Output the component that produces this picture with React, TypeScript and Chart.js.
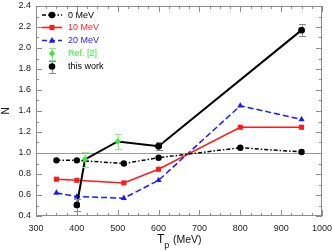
import React, { useEffect, useRef } from "react";
import { Chart, registerables } from "chart.js";

Chart.register(...registerables);

// ---- data ----
const energies = [350, 400, 515, 600, 800, 950];
const n0MeV = [0.93, 0.93, 0.9, 0.955, 1.05, 1.01];
const n10MeV = [0.75, 0.74, 0.715, 0.845, 1.245, 1.245];
const n20MeV = [0.62, 0.585, 0.57, 0.74, 1.45, 1.32];

const refEnergies = [420, 500];
const refValues = [0.94, 1.11];
const refErrors = [0.07, 0.07];

const workEnergies = [400, 600, 950];
const workValues = [0.505, 1.065, 2.17];
const workErrors = [0.055, 0.04, 0.06];

const xTicks = [300, 400, 500, 600, 700, 800, 900, 1000];
const yTicks = [0.4, 0.6, 0.8, 1.0, 1.2, 1.4, 1.6, 1.8, 2.0, 2.2, 2.4];
const legendLabels = ["0 MeV", "10 MeV", "20 MeV", "Ref. [2]", "this work"];
const xTitle = ["T", "p", "(MeV)"];
const yTitle = "N";

const FONT = "'Liberation Sans', Arial, Helvetica, sans-serif";
const RED = "#ff1a1a";
const BLUE = "#1a1aff";
const GREEN = "#33ee33";
const GREEN_BAR = "#88ee88";
const GRAY_BAR = "#8a8a8a";
const FRAME = "#8c8c8c";

const pts = (xs: number[], ys: number[]) => xs.map((x, i) => ({ x, y: ys[i] }));

const combined = [...workEnergies.map((x, i) => ({ x, y: workValues[i] })), ...refEnergies.map((x, i) => ({ x, y: refValues[i] }))].sort((a, b) => a.x - b.x);

function drawMarker(ctx: CanvasRenderingContext2D, kind: string, x: number, y: number, r: number, color: string) {
  ctx.save();
  ctx.fillStyle = color;
  ctx.strokeStyle = color;
  ctx.setLineDash([]);
  ctx.beginPath();
  if (kind === "circle") {
    ctx.arc(x, y, r, 0, Math.PI * 2);
  } else if (kind === "rect") {
    const s = r * Math.SQRT1_2;
    ctx.rect(x - s, y - s, 2 * s, 2 * s);
  } else if (kind === "triangle") {
    ctx.moveTo(x, y - r);
    ctx.lineTo(x + r * 0.9, y + r * 0.6);
    ctx.lineTo(x - r * 0.9, y + r * 0.6);
    ctx.closePath();
  } else if (kind === "diamond") {
    ctx.moveTo(x, y - r);
    ctx.lineTo(x + r, y);
    ctx.lineTo(x, y + r);
    ctx.lineTo(x - r, y);
    ctx.closePath();
  }
  ctx.fill();
  ctx.restore();
}

function drawErrBar(ctx: CanvasRenderingContext2D, x: number, yTop: number, yBot: number, color: string, cap: number) {
  ctx.save();
  ctx.strokeStyle = color;
  ctx.lineWidth = 1;
  ctx.setLineDash([]);
  const xx = Math.round(x) + 0.5;
  const t = Math.round(yTop) + 0.5;
  const b = Math.round(yBot) + 0.5;
  ctx.beginPath();
  ctx.moveTo(xx, t);
  ctx.lineTo(xx, b);
  ctx.moveTo(xx - cap, t);
  ctx.lineTo(xx + cap, t);
  ctx.moveTo(xx - cap, b);
  ctx.lineTo(xx + cap, b);
  ctx.stroke();
  ctx.restore();
}

const decorPlugin = {
  id: "decor",
  beforeDatasetsDraw(chart: any) {
    const { ctx, chartArea: a, scales } = chart;
    const xs = scales.x;
    const ys = scales.y;
    ctx.save();
    // reference line at N = 1
    ctx.strokeStyle = "#9a9a9a";
    ctx.lineWidth = 1;
    const y1 = Math.round(ys.getPixelForValue(1.0)) + 0.5;
    ctx.beginPath();
    ctx.moveTo(a.left, y1);
    ctx.lineTo(a.right, y1);
    ctx.stroke();

    // inward ticks
    ctx.strokeStyle = FRAME;
    ctx.beginPath();
    for (let i = 0; i < xTicks.length; i++) {
      const px = Math.round(xs.getPixelForValue(xTicks[i])) + 0.5;
      ctx.moveTo(px, a.bottom);
      ctx.lineTo(px, a.bottom - 6);
      ctx.moveTo(px, a.top);
      ctx.lineTo(px, a.top + 6);
      if (i < xTicks.length - 1) {
        const step = (xTicks[i + 1] - xTicks[i]) / 4;
        for (let k = 1; k < 4; k++) {
          const mx = Math.round(xs.getPixelForValue(xTicks[i] + k * step)) + 0.5;
          ctx.moveTo(mx, a.bottom);
          ctx.lineTo(mx, a.bottom - 3);
          ctx.moveTo(mx, a.top);
          ctx.lineTo(mx, a.top + 3);
        }
      }
    }
    for (let i = 0; i < yTicks.length; i++) {
      const py = Math.round(ys.getPixelForValue(yTicks[i])) + 0.5;
      ctx.moveTo(a.left, py);
      ctx.lineTo(a.left + 6, py);
      ctx.moveTo(a.right, py);
      ctx.lineTo(a.right - 6, py);
      if (i < yTicks.length - 1) {
        const my = Math.round(ys.getPixelForValue((yTicks[i] + yTicks[i + 1]) / 2)) + 0.5;
        ctx.moveTo(a.left, my);
        ctx.lineTo(a.left + 3, my);
        ctx.moveTo(a.right, my);
        ctx.lineTo(a.right - 3, my);
      }
    }
    ctx.stroke();
    // frame
    ctx.strokeRect(a.left + 0.5, a.top + 0.5, a.right - a.left - 1, a.bottom - a.top - 1);
    ctx.restore();
  },
  afterDatasetsDraw(chart: any) {
    const { ctx, scales } = chart;
    const xs = scales.x;
    const ys = scales.y;
    refEnergies.forEach((e, i) => {
      drawErrBar(ctx, xs.getPixelForValue(e), ys.getPixelForValue(refValues[i] + refErrors[i]), ys.getPixelForValue(refValues[i] - refErrors[i]), GREEN_BAR, 3.5);
    });
    workEnergies.forEach((e, i) => {
      drawErrBar(ctx, xs.getPixelForValue(e), ys.getPixelForValue(workValues[i] + workErrors[i]), ys.getPixelForValue(workValues[i] - workErrors[i]), GRAY_BAR, 3.5);
    });
    // redraw markers above bars
    refEnergies.forEach((e, i) => drawMarker(ctx, "diamond", xs.getPixelForValue(e), ys.getPixelForValue(refValues[i]), 3, GREEN));
    workEnergies.forEach((e, i) => drawMarker(ctx, "circle", xs.getPixelForValue(e), ys.getPixelForValue(workValues[i]), 3.2, "#000"));
  },
  afterDraw(chart: any) {
    const { ctx, chartArea: a } = chart;
    ctx.save();
    // legend
    const rows = [15, 27.5, 40.5, 53.5, 66.5];
    const lx0 = 42, lx1 = 62, mx = 52, tx = 68;
    const colors = ["#000", RED, BLUE, GREEN, "#000"];
    ctx.lineWidth = 1.5;
    ctx.strokeStyle = "#000";
    ctx.setLineDash([4, 2, 1.5, 2]);
    ctx.beginPath(); ctx.moveTo(lx0, rows[0]); ctx.lineTo(lx1, rows[0]); ctx.stroke();
    drawMarker(ctx, "circle", mx, rows[0], 3.3, "#000");
    ctx.strokeStyle = RED;
    ctx.setLineDash([]);
    ctx.beginPath(); ctx.moveTo(lx0, rows[1]); ctx.lineTo(lx1, rows[1]); ctx.stroke();
    drawMarker(ctx, "rect", mx, rows[1], 3.6, RED);
    ctx.strokeStyle = BLUE;
    ctx.setLineDash([5, 3]);
    ctx.beginPath(); ctx.moveTo(lx0, rows[2]); ctx.lineTo(lx1, rows[2]); ctx.stroke();
    ctx.setLineDash([]);
    drawMarker(ctx, "triangle", mx, rows[2], 3.6, BLUE);
    drawErrBar(ctx, mx, rows[3] - 6, rows[3] + 6, GREEN_BAR, 3.5);
    drawMarker(ctx, "diamond", mx, rows[3], 3.2, GREEN);
    drawErrBar(ctx, mx, rows[4] - 6, rows[4] + 6, GRAY_BAR, 3.5);
    drawMarker(ctx, "circle", mx, rows[4], 3.3, "#000");
    ctx.font = `9px ${FONT}`;
    ctx.textBaseline = "middle";
    ctx.textAlign = "left";
    legendLabels.forEach((t, i) => {
      ctx.fillStyle = colors[i];
      ctx.fillText(t, tx, rows[i] + 0.5);
    });

    // axis titles
    ctx.fillStyle = "#111";
    ctx.textBaseline = "alphabetic";
    ctx.font = `12px ${FONT}`;
    const tW = ctx.measureText(xTitle[0]).width;
    let x = 157;
    ctx.fillText(xTitle[0], x, 243);
    x += tW;
    ctx.font = `9px ${FONT}`;
    ctx.fillText(xTitle[1], x, 248);
    ctx.font = `10.5px ${FONT}`;
    ctx.fillText(xTitle[2], 173, 243);

    ctx.translate(9, (a.top + a.bottom) / 2);
    ctx.rotate(-Math.PI / 2);
    ctx.textAlign = "center";
    ctx.font = `10px ${FONT}`;
    ctx.fillText(yTitle, 0, 0);
    ctx.restore();
  },
};

export default function App() {
  const ref = useRef<HTMLCanvasElement | null>(null);
  useEffect(() => {
    document.body.style.margin = "0";
    const canvas = ref.current;
    if (!canvas) return;
    const chart = new Chart(canvas, {
      type: "line",
      data: {
        datasets: [
          {
            label: "this work line",
            data: combined,
            borderColor: "#000",
            borderWidth: 2,
            pointRadius: 0,
            order: 1,
          },
          {
            label: legendLabels[0],
            data: pts(energies, n0MeV),
            borderColor: "#000",
            backgroundColor: "#000",
            borderWidth: 1.5,
            borderDash: [4, 2, 1.5, 2],
            pointStyle: "circle",
            pointRadius: 3.2,
            pointBorderWidth: 0,
            order: 2,
          },
          {
            label: legendLabels[1],
            data: pts(energies, n10MeV),
            borderColor: RED,
            backgroundColor: RED,
            borderWidth: 1.5,
            pointStyle: "rect",
            pointRadius: 3.6,
            pointBorderWidth: 0,
            order: 3,
          },
          {
            label: legendLabels[2],
            data: pts(energies, n20MeV),
            borderColor: BLUE,
            backgroundColor: BLUE,
            borderWidth: 1.5,
            borderDash: [6, 3],
            pointStyle: "triangle",
            pointRadius: 3.6,
            pointBorderWidth: 0,
            order: 4,
          },
          {
            label: legendLabels[3],
            data: pts(refEnergies, refValues),
            showLine: false,
            backgroundColor: GREEN,
            borderColor: GREEN,
            pointStyle: "rectRot",
            pointRadius: 3,
            pointBorderWidth: 0,
            order: 0,
          },
          {
            label: legendLabels[4],
            data: pts(workEnergies, workValues),
            showLine: false,
            backgroundColor: "#000",
            borderColor: "#000",
            pointStyle: "circle",
            pointRadius: 3.2,
            pointBorderWidth: 0,
            order: 0,
          },
        ],
      },
      options: {
        animation: false,
        responsive: false,
        devicePixelRatio: 1,
        layout: { padding: { top: 6, right: 10, left: 0, bottom: 0 } },
        plugins: { legend: { display: false }, tooltip: { enabled: false }, title: { display: false } },
        elements: { line: { tension: 0 } },
        scales: {
          x: {
            type: "linear",
            min: 300,
            max: 1000,
            grid: { display: false, drawTicks: false },
            border: { display: false },
            ticks: {
              color: "#222",
              font: { size: 9, family: FONT },
              padding: 7,
              maxRotation: 0,
              callback: (v: any) => String(v),
            },
            afterBuildTicks: (s: any) => {
              s.ticks = xTicks.map((v) => ({ value: v }));
            },
            afterFit: (s: any) => {
              s.height = 36;
              s.paddingLeft = 0;
              s.paddingRight = 0;
            },
          },
          y: {
            type: "linear",
            min: 0.4,
            max: 2.4,
            grid: { display: false, drawTicks: false },
            border: { display: false },
            ticks: {
              color: "#222",
              font: { size: 9, family: FONT },
              padding: 5,
              callback: (v: any) => Number(v).toFixed(1),
            },
            afterBuildTicks: (s: any) => {
              s.ticks = yTicks.map((v) => ({ value: v }));
            },
            afterFit: (s: any) => {
              s.width = 36;
              s.paddingTop = 0;
              s.paddingBottom = 0;
            },
          },
        },
      },
      plugins: [decorPlugin],
    } as any);
    return () => chart.destroy();
  }, []);
  return (
    <div style={{ position: "fixed", left: 0, top: 0, width: 332, height: 252, background: "#fff" }}>
      <canvas ref={ref} width={332} height={252} style={{ width: 332, height: 252, display: "block" }} />
    </div>
  );
}
